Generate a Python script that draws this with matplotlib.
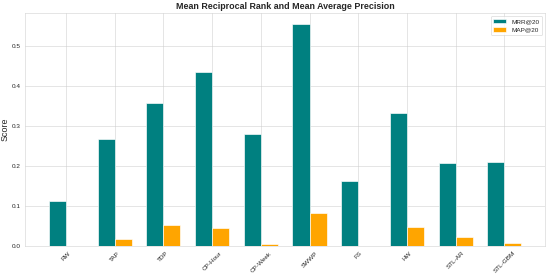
import matplotlib
matplotlib.use("Agg")
import matplotlib.pyplot as plt
import numpy as np
import seaborn as sns

sns.set_style("whitegrid")
plt.rcParams['font.family'] = ['Liberation Sans', 'DejaVu Sans']

modelos = ['RW', 'TAP', 'TDP', 'CP-Hour', 'CP-Week', 'SWWP', 'FS', 'HW', 'STL-AR', 'STL-GBM']
mrr = [0.114, 0.268, 0.358, 0.436, 0.281, 0.555, 0.163, 0.333, 0.207, 0.210]
map_ = [0.0, 0.019, 0.053, 0.046, 0.005, 0.083, 0.001, 0.047, 0.023, 0.009]

x = np.arange(len(modelos))
ancho = 0.35

fig, ax = plt.subplots(figsize=(12, 6), dpi=550 / 12)
ax.bar(x - ancho / 2, mrr, ancho, label='MRR@20', color='teal')
ax.bar(x + ancho / 2, map_, ancho, label='MAP@20', color='orange')

ax.set_ylabel('Score', fontsize=14)
ax.set_title('Mean Reciprocal Rank and Mean Average Precision', fontsize=14, fontweight='bold')
ax.set_xticks(x)
ax.set_xticklabels(modelos, rotation=45)
ax.legend()

fig.subplots_adjust(left=0.046, right=0.991, top=0.953, bottom=0.105)
plt.savefig('out.png')
